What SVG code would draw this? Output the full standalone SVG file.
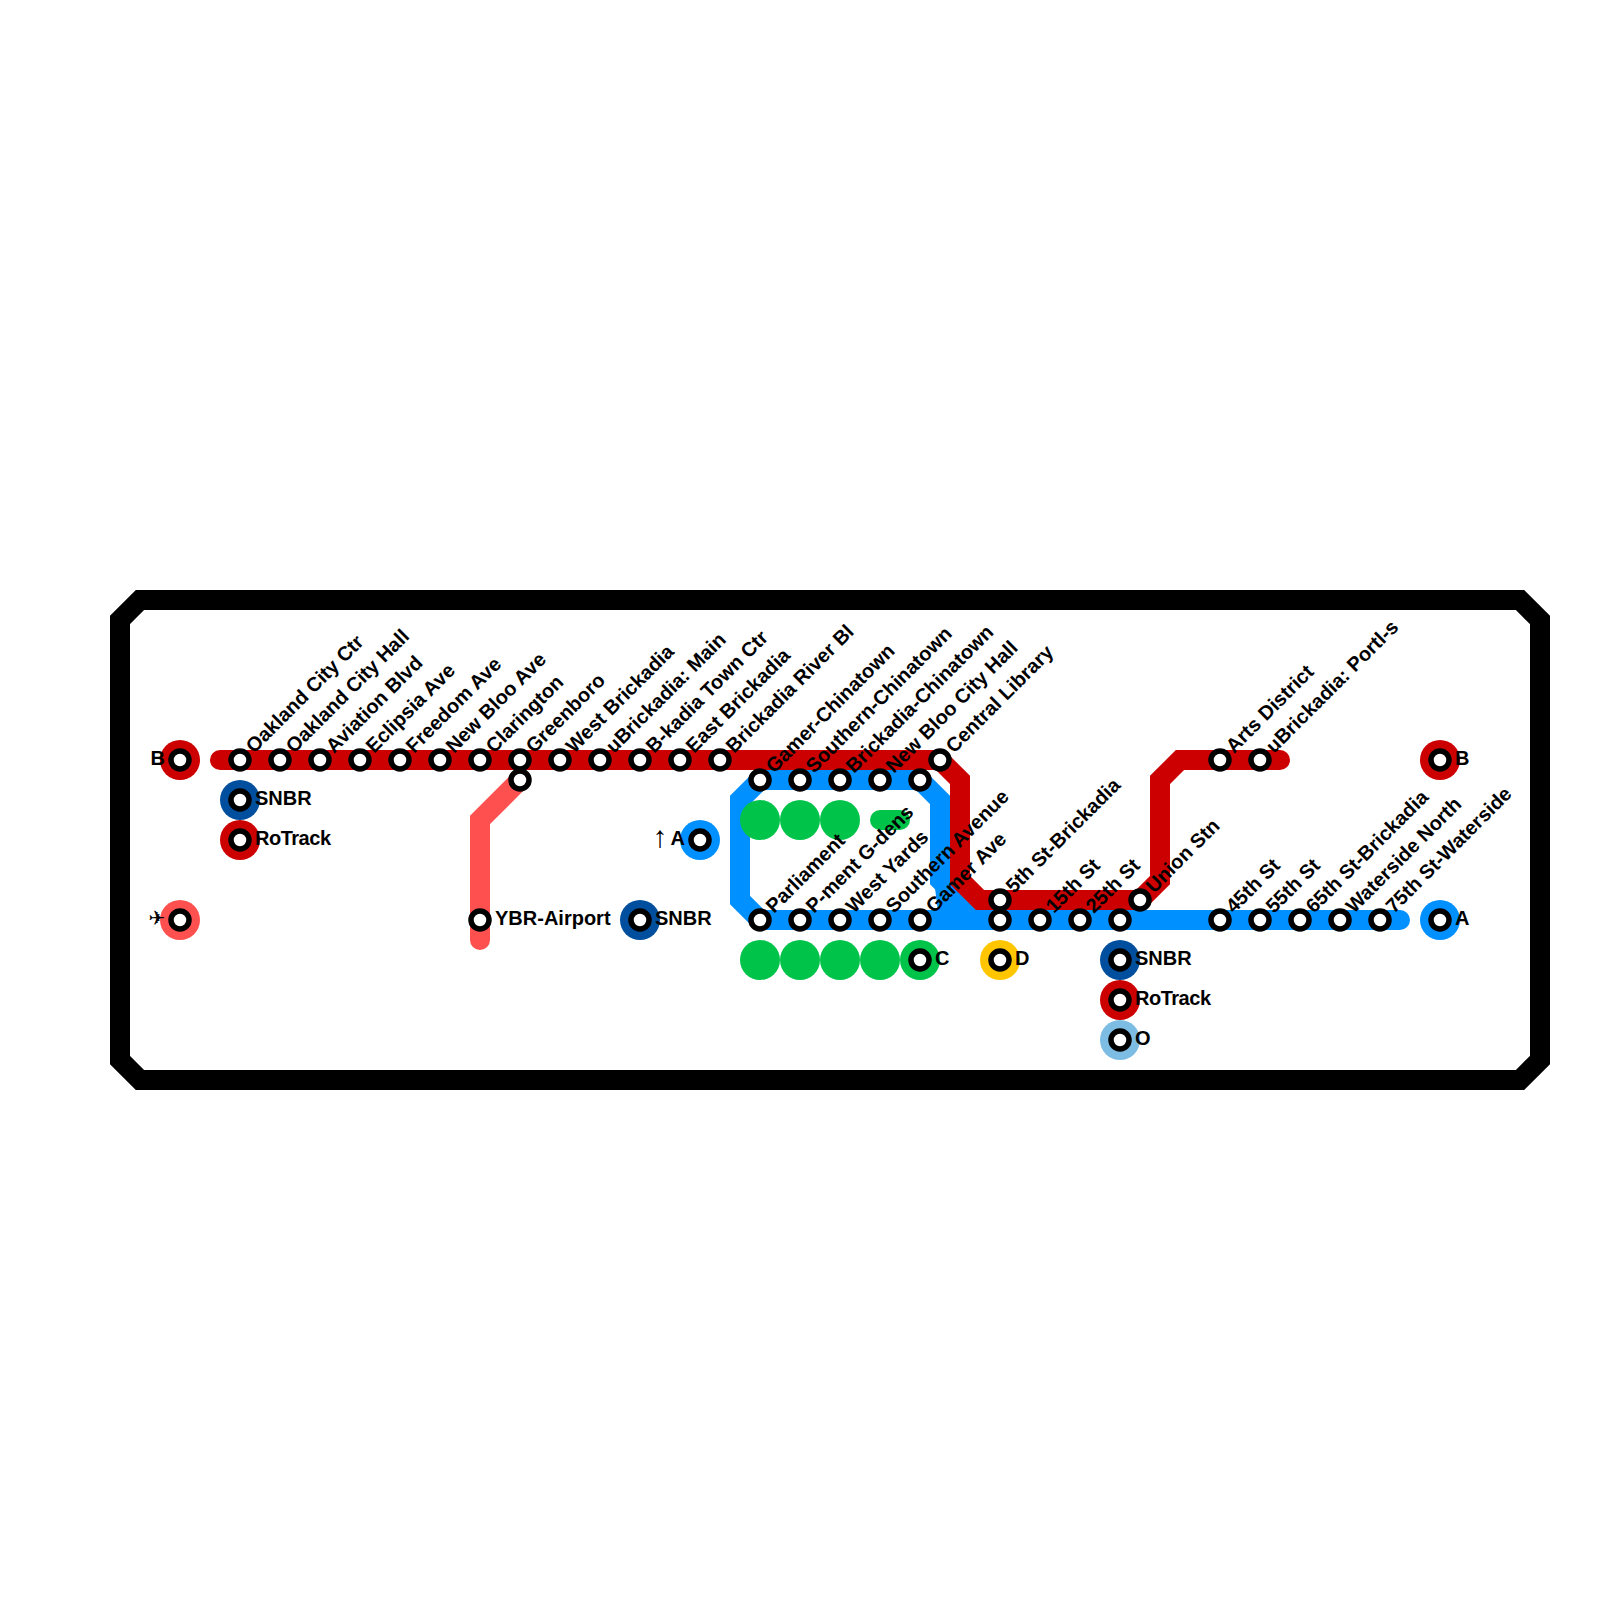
<svg xmlns="http://www.w3.org/2000/svg" width="1600" height="1600" viewBox="0 0 1600 1600">
<style>
.l{fill:none;stroke-width:20;stroke-linecap:round;stroke-linejoin:miter}
.s{fill:#fff;stroke:#000;stroke-width:5.5}
.t{font-family:"Liberation Sans","DejaVu Sans",sans-serif;font-size:20px;font-weight:bold;fill:#000}
.e{text-anchor:end}
.r{font-family:"Liberation Serif",serif;font-weight:normal;font-size:30px;text-anchor:middle}
</style>
<defs>
<circle id="st" class="s" r="9"/>
</defs>
<rect width="1600" height="1600" fill="#fff"/>
<g id="connectors">
<path id="frame" d="M140 600H1520L1540 620V1060L1520 1080H140L120 1060V620Z" fill="none" stroke="#000" stroke-width="20" stroke-linejoin="miter"/>
<path class="l" stroke="#00c44a" d="M880 820H900"/>
<path class="l" stroke="#ff5050" d="M520 780L480 820V940"/>
<path class="l" stroke="#0090ff" d="M1400 920H760L740 900V800L760 780H920L940 800V880L980 920"/>
<path fill="#0090ff" d="M935 888L938 912H985L960 880Z"/>
<path class="l" stroke="#cc0000" d="M220 760H940L960 780V880L980 900H1140L1160 880V780L1180 760H1280"/>
</g>
<g id="green-discs" fill="#00c44a">
<circle cx="760" cy="820" r="20"/><circle cx="800" cy="820" r="20"/><circle cx="840" cy="820" r="20"/>
<circle cx="760" cy="960" r="20"/><circle cx="800" cy="960" r="20"/><circle cx="840" cy="960" r="20"/><circle cx="880" cy="960" r="20"/>
</g>
<g id="n-oakland-city-ctr"><use href="#st" x="240" y="760"/><text class="t" transform="translate(254 754) rotate(-45)">Oakland City Ctr</text></g>
<g id="n-oakland-city-hall"><use href="#st" x="280" y="760"/><text class="t" transform="translate(294 754) rotate(-45)">Oakland City Hall</text></g>
<g id="n-aviation-blvd"><use href="#st" x="320" y="760"/><text class="t" transform="translate(334 754) rotate(-45)">Aviation Blvd</text></g>
<g id="n-eclipsia-ave"><use href="#st" x="360" y="760"/><text class="t" transform="translate(374 754) rotate(-45)">Eclipsia Ave</text></g>
<g id="n-freedom-ave"><use href="#st" x="400" y="760"/><text class="t" transform="translate(414 754) rotate(-45)">Freedom Ave</text></g>
<g id="n-new-bloo-ave"><use href="#st" x="440" y="760"/><text class="t" transform="translate(454 754) rotate(-45)">New Bloo Ave</text></g>
<g id="n-clarington"><use href="#st" x="480" y="760"/><text class="t" transform="translate(494 754) rotate(-45)">Clarington</text></g>
<g id="n-greenboro"><use href="#st" x="520" y="760"/><text class="t" transform="translate(534 754) rotate(-45)">Greenboro</text></g>
<g id="n-west-brickadia"><use href="#st" x="560" y="760"/><text class="t" transform="translate(574 754) rotate(-45)">West Brickadia</text></g>
<g id="n-ubrickadia-main"><use href="#st" x="600" y="760"/><text class="t" transform="translate(614 754) rotate(-45)">uBrickadia: Main</text></g>
<g id="n-b-kadia-town-ctr"><use href="#st" x="640" y="760"/><text class="t" transform="translate(654 754) rotate(-45)">B-kadia Town Ctr</text></g>
<g id="n-east-brickadia"><use href="#st" x="680" y="760"/><text class="t" transform="translate(694 754) rotate(-45)">East Brickadia</text></g>
<g id="n-brickadia-river-bl"><use href="#st" x="720" y="760"/><text class="t" transform="translate(734 754) rotate(-45)">Brickadia River Bl</text></g>
<g id="n-central-library"><use href="#st" x="940" y="760"/><text class="t" transform="translate(954 754) rotate(-45)">Central Library</text></g>
<g id="n-gamer-chinatown"><use href="#st" x="760" y="780"/><text class="t" transform="translate(774 774) rotate(-45)">Gamer-Chinatown</text></g>
<g id="n-southern-chinatown"><use href="#st" x="800" y="780"/><text class="t" transform="translate(814 774) rotate(-45)">Southern-Chinatown</text></g>
<g id="n-brickadia-chinatown"><use href="#st" x="840" y="780"/><text class="t" transform="translate(854 774) rotate(-45)">Brickadia-Chinatown</text></g>
<g id="n-new-bloo-city-hall"><use href="#st" x="880" y="780"/><text class="t" transform="translate(894 774) rotate(-45)">New Bloo City Hall</text></g>
<g id="n-top-920"><use href="#st" x="920" y="780"/></g>
<g id="n-salmon-junction"><use href="#st" x="520" y="780"/></g>
<g id="n-parliament"><use href="#st" x="760" y="920"/><text class="t" transform="translate(774 914) rotate(-45)">Parliament</text></g>
<g id="n-p-ment-g-dens"><use href="#st" x="800" y="920"/><text class="t" transform="translate(814 914) rotate(-45)">P-ment G-dens</text></g>
<g id="n-west-yards"><use href="#st" x="840" y="920"/><text class="t" transform="translate(854 914) rotate(-45)">West Yards</text></g>
<g id="n-southern-avenue"><use href="#st" x="880" y="920"/><text class="t" transform="translate(894 914) rotate(-45)">Southern Avenue</text></g>
<g id="n-gamer-ave"><use href="#st" x="920" y="920"/><text class="t" transform="translate(934 914) rotate(-45)">Gamer Ave</text></g>
<g id="n-5th-st-brickadia"><use href="#st" x="1000" y="900"/><text class="t" transform="translate(1014 894) rotate(-45)">5th St-Brickadia</text></g>
<g id="n-5th-st-lower"><use href="#st" x="1000" y="920"/></g>
<g id="n-15th-st"><use href="#st" x="1040" y="920"/><text class="t" transform="translate(1054 914) rotate(-45)">15th St</text></g>
<g id="n-25th-st"><use href="#st" x="1080" y="920"/><text class="t" transform="translate(1094 914) rotate(-45)">25th St</text></g>
<g id="n-35th"><use href="#st" x="1120" y="920"/></g>
<g id="n-union-stn"><use href="#st" x="1140" y="900"/><text class="t" transform="translate(1154 894) rotate(-45)">Union Stn</text></g>
<g id="n-arts-district"><use href="#st" x="1220" y="760"/><text class="t" transform="translate(1234 754) rotate(-45)">Arts District</text></g>
<g id="n-ubrickadia-portl-s"><use href="#st" x="1260" y="760"/><text class="t" transform="translate(1274 754) rotate(-45)">uBrickadia: Portl-s</text></g>
<g id="n-45th-st"><use href="#st" x="1220" y="920"/><text class="t" transform="translate(1234 914) rotate(-45)">45th St</text></g>
<g id="n-55th-st"><use href="#st" x="1260" y="920"/><text class="t" transform="translate(1274 914) rotate(-45)">55th St</text></g>
<g id="n-65th-st-brickadia"><use href="#st" x="1300" y="920"/><text class="t" transform="translate(1314 914) rotate(-45)">65th St-Brickadia</text></g>
<g id="n-waterside-north"><use href="#st" x="1340" y="920"/><text class="t" transform="translate(1354 914) rotate(-45)">Waterside North</text></g>
<g id="n-75th-st-waterside"><use href="#st" x="1380" y="920"/><text class="t" transform="translate(1394 914) rotate(-45)">75th St-Waterside</text></g>
<g id="n-ybr-airport"><use href="#st" x="480" y="920"/><text class="t" x="495" y="925">YBR-Airport</text></g>
<g id="m-b-left"><circle cx="180" cy="760" r="20" fill="#cc0000"/><use href="#st" x="180" y="760"/><text class="t e" x="165" y="765">B</text></g>
<g id="m-snbr-1"><circle cx="240" cy="800" r="20" fill="#004f9f"/><use href="#st" x="240" y="800"/><text class="t" x="255" y="805">SNBR</text></g>
<g id="m-rotrack-1"><circle cx="240" cy="840" r="20" fill="#cc0000"/><use href="#st" x="240" y="840"/><text class="t" x="255" y="845" textLength="76">RoTrack</text></g>
<g id="m-airport"><circle cx="180" cy="920" r="20" fill="#ff5050"/><use href="#st" x="180" y="920"/><text class="t e" x="165" y="925">✈</text></g>
<g id="m-a-up"><circle cx="700" cy="840" r="20" fill="#0090ff"/><use href="#st" x="700" y="840"/><text class="t r" x="660" y="847">↑</text><text class="t e" x="685" y="845">A</text></g>
<g id="m-snbr-2"><circle cx="640" cy="920" r="20" fill="#004f9f"/><use href="#st" x="640" y="920"/><text class="t" x="655" y="925">SNBR</text></g>
<g id="m-c"><circle cx="920" cy="960" r="20" fill="#00c44a"/><use href="#st" x="920" y="960"/><text class="t" x="935" y="965">C</text></g>
<g id="m-d"><circle cx="1000" cy="960" r="20" fill="#ffc600"/><use href="#st" x="1000" y="960"/><text class="t" x="1015" y="965">D</text></g>
<g id="m-snbr-3"><circle cx="1120" cy="960" r="20" fill="#004f9f"/><use href="#st" x="1120" y="960"/><text class="t" x="1135" y="965">SNBR</text></g>
<g id="m-rotrack-2"><circle cx="1120" cy="1000" r="20" fill="#cc0000"/><use href="#st" x="1120" y="1000"/><text class="t" x="1135" y="1005" textLength="76">RoTrack</text></g>
<g id="m-o"><circle cx="1120" cy="1040" r="20" fill="#7dbde3"/><use href="#st" x="1120" y="1040"/><text class="t" x="1135" y="1045">O</text></g>
<g id="m-b-right"><circle cx="1440" cy="760" r="20" fill="#cc0000"/><use href="#st" x="1440" y="760"/><text class="t" x="1455" y="765">B</text></g>
<g id="m-a-right"><circle cx="1440" cy="920" r="20" fill="#0090ff"/><use href="#st" x="1440" y="920"/><text class="t" x="1455" y="925">A</text></g>
</svg>
